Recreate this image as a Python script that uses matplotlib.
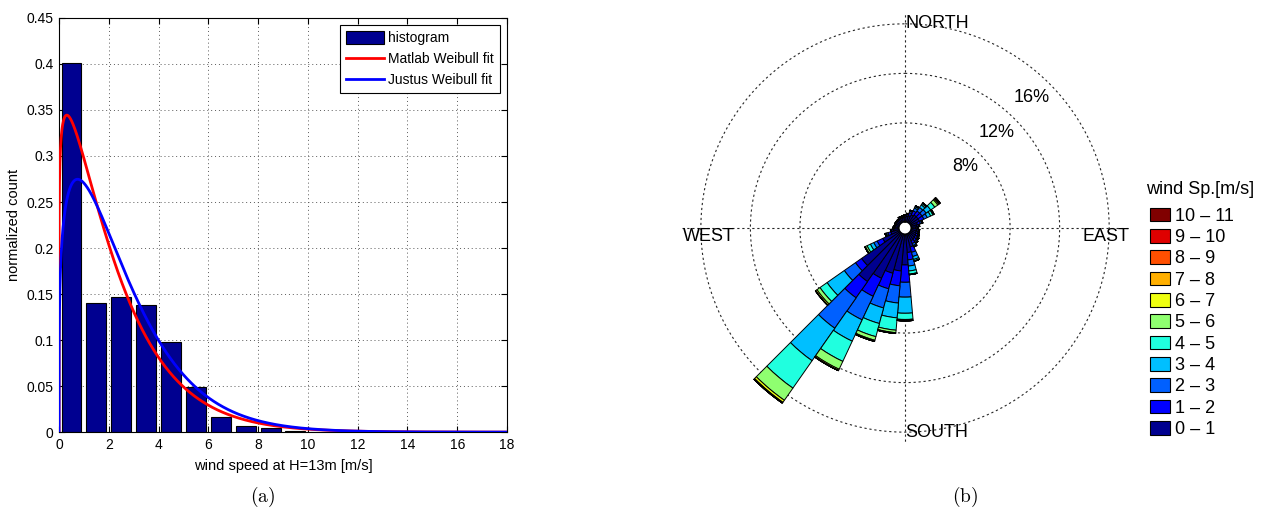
import numpy as np
import matplotlib.pyplot as plt
from matplotlib.patches import Patch

plt.rcParams['font.family'] = ['Liberation Sans', 'DejaVu Sans']
plt.rcParams['mathtext.fontset'] = 'cm'

# ---- (a) wind speed histogram and Weibull fits ----
speed_bins = np.arange(0.5, 11.0, 1.0)
hist_counts = [0.401, 0.140, 0.147, 0.138, 0.098, 0.049, 0.016, 0.007, 0.004, 0.0015, 0.0006]

# Weibull shape k and scale c of the two fits
matlab_k, matlab_c = 1.12, 2.30
justus_k, justus_c = 1.25, 2.70

# ---- (b) wind rose: frequency [%] per 10 deg sector and speed class ----
directions = np.arange(0, 360, 10)
speed_labels = ['0 – 1', '1 – 2', '2 – 3', '3 – 4', '4 – 5', '5 – 6',
                '6 – 7', '7 – 8', '8 – 9', '9 – 10', '10 – 11']
speed_colors = ['#00008f', '#0000ff', '#0060ff', '#00bfff', '#20ffdf',
                '#8fff70', '#efff10', '#ffaf00', '#ff4f00', '#df0000', '#800000']

f_0_1 = [0.40, 0.45, 0.55, 0.70, 0.80, 0.80, 0.80, 0.55, 0.45, 0.40, 0.45, 0.45,
         0.50, 0.55, 0.60, 0.65, 1.10, 1.50, 2.50, 3.00, 3.30, 4.00, 4.80, 3.80,
         1.50, 0.70, 0.45, 0.35, 0.30, 0.30, 0.30, 0.30, 0.30, 0.35, 0.35, 0.35]
f_1_2 = [0.15, 0.15, 0.25, 0.35, 0.40, 0.40, 0.40, 0.25, 0.15, 0.13, 0.15, 0.15,
         0.18, 0.20, 0.22, 0.25, 0.45, 0.60, 1.40, 1.20, 1.30, 1.60, 1.60, 0.60,
         0.50, 0.25, 0.15, 0.10, 0.08, 0.08, 0.08, 0.08, 0.08, 0.10, 0.10, 0.10]
f_2_3 = [0.05, 0.07, 0.12, 0.25, 0.35, 0.40, 0.30, 0.12, 0.07, 0.05, 0.07, 0.07,
         0.08, 0.10, 0.12, 0.18, 0.35, 0.50, 1.20, 1.40, 1.60, 2.10, 3.00, 1.10,
         0.30, 0.12, 0.07, 0.05, 0.02, 0.02, 0.02, 0.02, 0.02, 0.05, 0.05, 0.05]
f_3_4 = [0.00, 0.03, 0.06, 0.12, 0.25, 0.45, 0.30, 0.06, 0.03, 0.02, 0.03, 0.03,
         0.04, 0.05, 0.06, 0.10, 0.25, 0.40, 1.30, 1.20, 1.30, 1.90, 3.20, 1.70,
         0.30, 0.08, 0.03, 0.00, 0.00, 0.00, 0.00, 0.00, 0.00, 0.00, 0.00, 0.00]
f_4_5 = [0.00, 0.00, 0.02, 0.06, 0.12, 0.40, 0.20, 0.02, 0.00, 0.00, 0.00, 0.00,
         0.00, 0.00, 0.00, 0.02, 0.12, 0.25, 0.50, 1.00, 1.10, 1.80, 2.70, 0.70,
         0.30, 0.04, 0.00, 0.00, 0.00, 0.00, 0.00, 0.00, 0.00, 0.00, 0.00, 0.00]
f_5_6 = [0.00, 0.00, 0.00, 0.02, 0.06, 0.30, 0.08, 0.00, 0.00, 0.00, 0.00, 0.00,
         0.00, 0.00, 0.00, 0.00, 0.03, 0.05, 0.08, 0.20, 0.30, 0.70, 1.20, 0.30,
         0.15, 0.00, 0.00, 0.00, 0.00, 0.00, 0.00, 0.00, 0.00, 0.00, 0.00, 0.00]
f_6_7 = [0.00, 0.00, 0.00, 0.00, 0.02, 0.10, 0.02, 0.00, 0.00, 0.00, 0.00, 0.00,
         0.00, 0.00, 0.00, 0.00, 0.00, 0.00, 0.03, 0.05, 0.08, 0.10, 0.20, 0.12,
         0.05, 0.00, 0.00, 0.00, 0.00, 0.00, 0.00, 0.00, 0.00, 0.00, 0.00, 0.00]
f_7_8 = [0.00, 0.00, 0.00, 0.00, 0.00, 0.06, 0.00, 0.00, 0.00, 0.00, 0.00, 0.00,
         0.00, 0.00, 0.00, 0.00, 0.00, 0.00, 0.00, 0.02, 0.02, 0.03, 0.08, 0.03,
         0.00, 0.00, 0.00, 0.00, 0.00, 0.00, 0.00, 0.00, 0.00, 0.00, 0.00, 0.00]
f_8_9 = [0.00] * 5 + [0.04] + [0.00] * 30
f_9_10 = [0.00] * 5 + [0.03] + [0.00] * 30
f_10_11 = [0.00] * 5 + [0.03] + [0.00] * 30
rose_freq = [f_0_1, f_1_2, f_2_3, f_3_4, f_4_5, f_5_6,
             f_6_7, f_7_8, f_8_9, f_9_10, f_10_11]

ring_levels = [8, 12, 16]


def weibull_pdf(v, k, c):
    return (k / c) * (v / c) ** (k - 1) * np.exp(-(v / c) ** k)


fig = plt.figure(figsize=(12.64, 5.12), dpi=100)

# ---------------- histogram ----------------
ax = fig.add_axes([0.0467, 0.156, 0.3544, 0.809])
bars = ax.bar(speed_bins, hist_counts, width=0.8, color='#000090', edgecolor='k',
              linewidth=0.8, zorder=2)
v = np.linspace(0, 18, 3000)
l_mat, = ax.plot(v, weibull_pdf(v, matlab_k, matlab_c), color='#ff0000', lw=2, zorder=3)
l_jus, = ax.plot(v, weibull_pdf(v, justus_k, justus_c), color='#0000ff', lw=2, zorder=3)

ax.set_xlim(0, 18)
ax.set_ylim(0, 0.45)
ax.set_xticks(np.arange(0, 19, 2))
yt = np.arange(0, 0.451, 0.05)
ax.set_yticks(yt)
ax.set_yticklabels(['0'] + ['%g' % round(t, 2) for t in yt[1:]])
ax.tick_params(direction='in', top=True, right=True, length=4, width=0.8,
               labelsize=10, pad=4)
ax.grid(True, linestyle=(0, (1, 3)), color='0.35', linewidth=0.7)
ax.set_axisbelow(True)
for s in ax.spines.values():
    s.set_linewidth(0.8)
ax.set_xlabel('wind speed at H=13m [m/s]', fontsize=10.5, labelpad=5)
ax.set_ylabel('normalized count', fontsize=10.5, labelpad=4)
leg = ax.legend([bars, l_mat, l_jus],
                ['histogram', 'Matlab Weibull fit', 'Justus Weibull fit'],
                loc='upper right', fontsize=10, fancybox=False,
                edgecolor='k', framealpha=1, handlelength=2.7, handleheight=1.0,
                borderaxespad=0.5, labelspacing=0.5, handletextpad=0.3,
                borderpad=0.45)
leg.get_frame().set_linewidth(0.8)

fig.text(263 / 1264, 0.03, r'$\mathrm{(a)}$', ha='center', va='center', fontsize=14)

# ---------------- wind rose ----------------
rmax = 17.6
pax = fig.add_axes([0.5388, 0.1172, 0.3544, 0.875], projection='polar')
pax.set_theta_zero_location('N')
pax.set_theta_direction(-1)
pax.set_ylim(0, rmax)
pax.set_rorigin(-0.485)
pax.grid(False)
pax.set_xticks([])
pax.set_yticks([])
pax.spines['polar'].set_visible(False)

dash = (0, (2, 2.5))
t = np.linspace(0, 2 * np.pi, 400)
for lev in ring_levels:
    pax.plot(t, np.full_like(t, lev), color='0.15', lw=0.8, linestyle=dash, zorder=1)
for ang, rr in [(0, 16.8), (np.pi / 2, 17.5), (np.pi, 16.8), (1.5 * np.pi, 17.5)]:
    pax.plot([ang, ang], [0, rr], color='0.15', lw=0.8, linestyle=dash, zorder=1)

theta = np.deg2rad(directions)
bottom = np.zeros(len(directions))
for freq, col in zip(rose_freq, speed_colors):
    freq = np.array(freq)
    pax.bar(theta, freq, width=np.deg2rad(10), bottom=bottom, color=col,
            edgecolor='k', linewidth=0.7, zorder=3)
    bottom = bottom + freq

lab_r = [6.46, 10.2, 14.2]
for lev, rr in zip(ring_levels, lab_r):
    pax.text(np.deg2rad(44), rr, '%d%%' % lev, ha='center', va='center', fontsize=13)
pax.text(0, 16.0, 'NORTH', ha='left', va='center', fontsize=13)
pax.text(np.pi, 16.0, 'SOUTH', ha='left', va='center', fontsize=13)
pax.text(1.5 * np.pi, 17.45, 'WEST', ha='left', va='top', fontsize=13)
pax.text(0.5 * np.pi, 17.6, 'EAST', ha='right', va='top', fontsize=13)

fig.text(1146 / 1264, 1 - 189 / 512, 'wind Sp.[m/s]', ha='left', va='center', fontsize=13)
handles = [Patch(facecolor=c, edgecolor='k', linewidth=0.8, label=l)
           for c, l in zip(speed_colors, speed_labels)][::-1]
fig.legend(handles=handles, loc='upper left',
           bbox_to_anchor=(1137 / 1264, 1 - 195 / 512), frameon=False,
           fontsize=13, handlelength=1.1, handleheight=0.8, handletextpad=0.3,
           labelspacing=0.23, borderpad=0.2)

fig.text(965 / 1264, 0.03, r'$\mathrm{(b)}$', ha='center', va='center', fontsize=14)

fig.savefig('out.png', dpi=100)
